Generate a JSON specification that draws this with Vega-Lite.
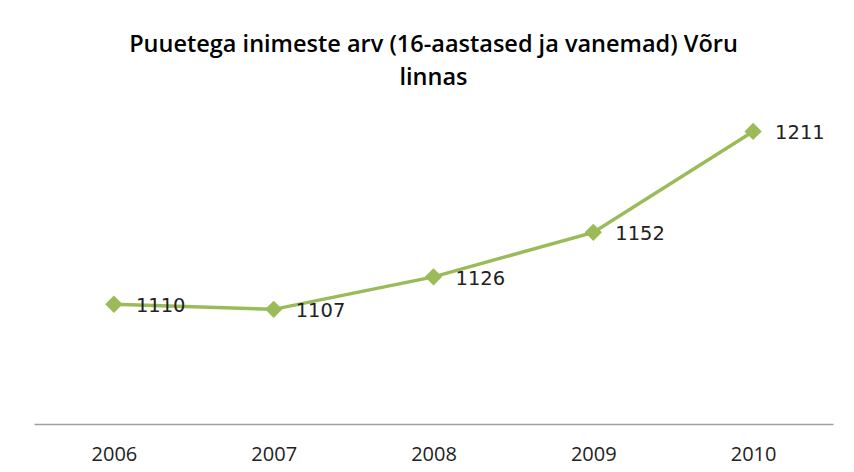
{
  "$schema": "https://vega.github.io/schema/vega-lite/v6.json",
  "width": 799,
  "height": 308,
  "autosize": "none",
  "padding": {"left": 34, "top": 116, "right": 21, "bottom": 48},
  "background": "white",
  "config": {"view": {"stroke": null}},
  "title": {
    "text": ["Puuetega inimeste arv (16-aastased ja vanemad) Võru", "linnas"],
    "font": "Open Sans",
    "fontSize": 23.5,
    "fontWeight": 600,
    "color": "#000000",
    "lineHeight": 33,
    "anchor": "middle",
    "frame": "group",
    "offset": 27
  },
  "data": {
    "values": [
      {"year": "2006", "value": 1110},
      {"year": "2007", "value": 1107},
      {"year": "2008", "value": 1126},
      {"year": "2009", "value": 1152},
      {"year": "2010", "value": 1211}
    ]
  },
  "encoding": {
    "x": {
      "field": "year",
      "type": "ordinal",
      "scale": {"type": "point", "padding": 0.5},
      "axis": {
        "title": null,
        "labelAngle": 0,
        "ticks": false,
        "grid": false,
        "domainColor": "#A0A0A0",
        "domainWidth": 1.5,
        "labelFont": "Open Sans",
        "labelFontSize": 20,
        "labelColor": "#222222",
        "labelPadding": 20
      }
    },
    "y": {
      "field": "value",
      "type": "quantitative",
      "scale": {"domain": [1040, 1220], "zero": false},
      "axis": null
    }
  },
  "layer": [
    {"mark": {"type": "line", "color": "#9BBB59", "strokeWidth": 3.5}},
    {"mark": {"type": "point", "shape": "diamond", "filled": true, "size": 300, "color": "#9BBB59", "opacity": 1}},
    {
      "mark": {"type": "text", "align": "left", "baseline": "middle", "dx": 22, "dy": 2, "font": "DejaVu Sans", "fontSize": 19.5, "color": "#222222"},
      "encoding": {"text": {"field": "value", "type": "quantitative"}}
    }
  ]
}
